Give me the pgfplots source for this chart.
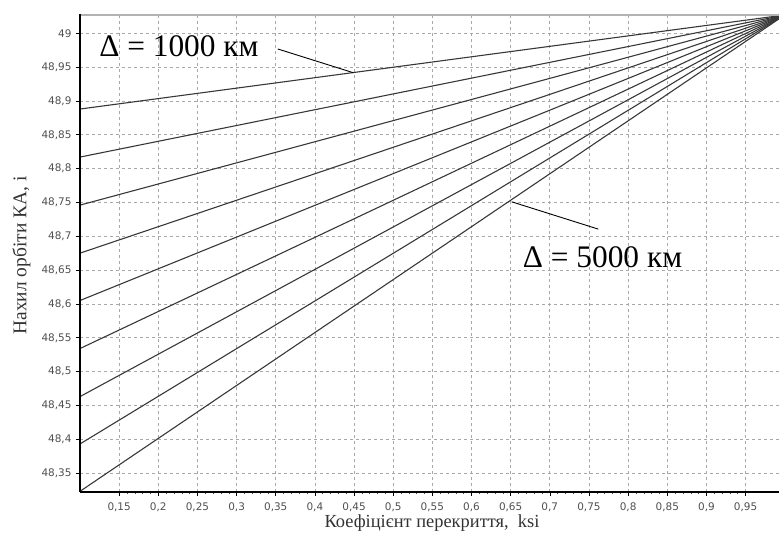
\documentclass[border=0pt]{standalone}
\usepackage{fontspec}
\setmainfont{Liberation Serif}
\newfontfamily\ticksfont{DejaVu Sans}
\usepackage{pgfplots}
\pgfplotsset{compat=1.18}
\definecolor{gridgray}{HTML}{A8A8A8}
\definecolor{linegray}{HTML}{383838}
\definecolor{tickgray}{HTML}{505050}
\begin{document}
\begin{tikzpicture}
\begin{axis}[
  scale only axis,
  width=699bp, height=477bp,
  xmin=0.1, xmax=0.9927,
  ymin=48.322, ymax=49.027,
  axis x line*=bottom, axis y line*=left,
  axis line style={black, line width=1.8bp, -},
  xtick={0.15,0.2,...,0.96},
  ytick={48.35,48.4,...,49.01},
  minor x tick num=4,
  minor y tick num=0,
  tick align=outside,
  major tick length=4bp,
  minor tick length=2.5bp,
  tick style={black, line width=0.6bp},
  minor tick style={tickgray, line width=0.5bp},
  grid=major,
  major grid style={gridgray, line width=0.8bp, dash pattern=on 3bp off 3bp},
  /pgf/number format/assume math mode=true,
  /pgf/number format/.cd, fixed, precision=2, use comma, 1000 sep={},
  /pgfplots/.cd,
  tick label style={font=\ticksfont\fontsize{10.5}{12.5}\selectfont, text=tickgray},
  xticklabel style={yshift=-3bp},
  yticklabel style={xshift=-1bp},
  xlabel={Коефіцієнт перекриття,~~ksi},
  ylabel={Нахил орбіти КА, i},
  xlabel style={at={(axis description cs:0.5036,-0.0734)}, anchor=base, font=\fontsize{18.5}{21}\selectfont, text=black!80},
  ylabel style={at={(axis description cs:-0.0837,0.4958)}, anchor=center, rotate=0, font=\fontsize{19.5}{22}\selectfont, text=black!80},
  clip=true,
]
\addplot[linegray, line width=1.1bp] coordinates {(0.1,48.888) (1.0,49.027)};
\addplot[linegray, line width=1.1bp] coordinates {(0.1,48.817) (1.0,49.027)};
\addplot[linegray, line width=1.1bp] coordinates {(0.1,48.746) (1.0,49.027)};
\addplot[linegray, line width=1.1bp] coordinates {(0.1,48.675) (1.0,49.027)};
\addplot[linegray, line width=1.1bp] coordinates {(0.1,48.605) (1.0,49.027)};
\addplot[linegray, line width=1.1bp] coordinates {(0.1,48.534) (1.0,49.027)};
\addplot[linegray, line width=1.1bp] coordinates {(0.1,48.463) (1.0,49.027)};
\addplot[linegray, line width=1.1bp] coordinates {(0.1,48.393) (1.0,49.027)};
\addplot[linegray, line width=1.1bp] coordinates {(0.1,48.323) (1.0,49.027)};
% annotation pointers
\addplot[black, line width=0.9bp] coordinates {(0.3525,48.9768) (0.449,48.9417)};
\addplot[black, line width=0.9bp] coordinates {(0.6513,48.7509) (0.762,48.7105)};
\node[anchor=base, font=\fontsize{31.5}{35}\selectfont, inner sep=0pt] at (axis cs:0.2264,48.965) {Δ = 1000 км};
\node[anchor=base, font=\fontsize{31.5}{35}\selectfont, inner sep=0pt] at (axis cs:0.7673,48.6538) {Δ = 5000 км};
\coordinate (sw) at (rel axis cs:0,0);
\coordinate (ne) at (rel axis cs:1,1);
\coordinate (nw) at (rel axis cs:0,1);
\end{axis}
\draw[gray!60, line width=1.5bp] ([xshift=-0.9bp]nw) -- (ne);
\draw[black, line width=1.8bp] ([yshift=0.75bp]nw) -- (sw);
\pgfresetboundingbox
\path ([shift={(-80bp,-43bp)}]sw) rectangle ([shift={(0bp,15bp)}]ne);
\end{tikzpicture}
\end{document}
